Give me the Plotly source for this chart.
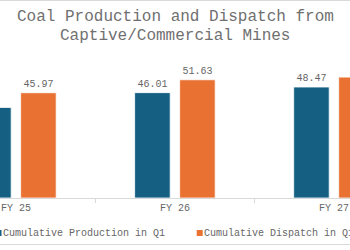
import plotly.graph_objects as go

categories = ["FY 25", "FY 26", "FY 27"]
production = [39.54, 46.01, 48.47]
dispatch = [45.97, 51.63, 52.79]
series_names = ["Cumulative Production in Q1", "Cumulative Dispatch in Q1"]
title_lines = ["Coal Production and Dispatch from", "Captive/Commercial Mines"]

BLUE = "#156082"
ORANGE = "#E97132"
GRAY = "#666666"
FONT = "Liberation Mono, Courier New, monospace"

W, H = 350, 250
T, B = 60, 52
PH = H - T - B

def py(p):
    return (H - B - p) / PH

fig = go.Figure()
for name, vals, col in [(series_names[0], production, BLUE), (series_names[1], dispatch, ORANGE)]:
    fig.add_trace(go.Bar(
        x=categories, y=vals, name=name,
        marker=dict(color=col, line=dict(color="white", width=0.8)),
        text=[f"{v:.2f}" for v in vals], textposition="outside",
        textfont=dict(family=FONT, size=10, color=GRAY),
        cliponaxis=False, showlegend=False,
    ))

fig.update_layout(
    width=W, height=H,
    margin=dict(l=0, r=0, t=T, b=B, pad=0),
    paper_bgcolor="white", plot_bgcolor="white",
    barmode="group", bargap=0.434, bargroupgap=0.21,
    font=dict(family=FONT, size=10, color=GRAY),
    xaxis=dict(range=[-0.1, 2.101], showline=True, linecolor="#D9D9D9", linewidth=1,
               ticks="outside", tickson="boundaries", ticklen=4, tickcolor="#D9D9D9",
               tickfont=dict(family=FONT, size=10, color=GRAY), showgrid=False, zeroline=False),
    yaxis=dict(range=[0, 60.26], visible=False, showgrid=False, zeroline=False),
)

# title lines
for txt, p in zip(title_lines, [17, 35.5]):
    fig.add_annotation(text=txt, xref="paper", yref="paper", x=0.5, y=py(p),
                       xanchor="center", yanchor="middle", showarrow=False, borderpad=0,
                       font=dict(family=FONT, size=16, color="#707070"))

# legend (manual)
leg_y = 233
for name, col, sx in [(series_names[0], BLUE, -4.5), (series_names[1], ORANGE, 196.7)]:
    fig.add_shape(type="rect", xref="paper", yref="paper",
                  x0=sx / W, x1=(sx + 6) / W, y0=py(leg_y + 3), y1=py(leg_y - 3),
                  fillcolor=col, line=dict(width=0))
    fig.add_annotation(text=name, xref="paper", yref="paper", x=(sx + 6.5) / W, y=py(leg_y),
                       xanchor="left", yanchor="middle", showarrow=False, borderpad=0,
                       font=dict(family=FONT, size=10, color=GRAY))

# chart border lines
for p in [0.5, 244.5]:
    fig.add_shape(type="line", xref="paper", yref="paper", x0=-0.1, x1=1.1,
                  y0=py(p), y1=py(p), line=dict(color="#D9D9D9", width=1))

fig.write_html("out.html")
